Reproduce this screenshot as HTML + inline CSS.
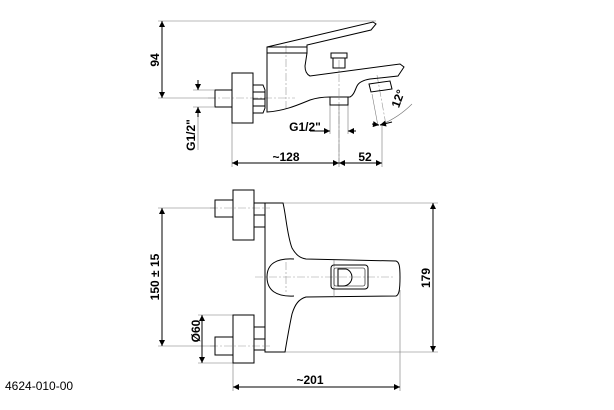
<!DOCTYPE html>
<html><head><meta charset="utf-8"><style>
html,body{margin:0;padding:0;background:#fff;}
svg{display:block;font-family:"Liberation Sans",Arial,sans-serif;}
</style></head><body>
<svg width="614" height="410" viewBox="0 0 614 410" xmlns="http://www.w3.org/2000/svg">
<defs>
<marker id="a" viewBox="0 0 10 10" refX="10" refY="5" markerWidth="9" markerHeight="6" orient="auto-start-reverse" markerUnits="userSpaceOnUse"><path d="M0,0L10,5L0,10z" fill="#000"/></marker>
</defs>
<g fill="none" stroke="#000" stroke-width="1">
<g stroke="#999" stroke-width="0.6" stroke-dasharray="8,2,2,2">
<line x1="208" y1="98" x2="295" y2="98"/>
<line x1="339" y1="60" x2="339" y2="165"/>
<line x1="286" y1="45" x2="286" y2="110"/>
<line x1="377" y1="75" x2="386" y2="125"/>
</g>
<g stroke="#777" stroke-width="0.6">
<line x1="158" y1="21" x2="376" y2="21"/>
<line x1="158" y1="98" x2="215" y2="98"/>
<line x1="193" y1="90" x2="214" y2="90"/>
<line x1="193" y1="107" x2="214" y2="107"/>
<line x1="232" y1="123" x2="232" y2="167"/>
<line x1="339" y1="105" x2="339" y2="167"/>
<line x1="382" y1="125" x2="382" y2="167"/>
<line x1="330" y1="105" x2="330" y2="134"/>
<line x1="348" y1="105" x2="348" y2="134"/>
<line x1="372" y1="94" x2="378" y2="126"/>
</g>
<path d="M267,47 L373,22 L376,24 L371,30 L307,45 L307,53 L267,53 Z"/>
<line x1="267" y1="47" x2="307" y2="47"/>
<path d="M267,53 L267,112 C285,111 300,104 310,100 C316,98 322,97 330,97 L350,97 C354,95 355,90 357,86 C359,82 364,80 370,79 L398,76 L404,67 L400,64 L310,76 C306,74 305,70 305,66 L307,53"/>
<rect x="331" y="53" width="16" height="5"/>
<rect x="333" y="58" width="12" height="10"/>
<rect x="330" y="97" width="18" height="8"/>
<path d="M369,84 L390,81 L392,89 L371,92 Z"/>
<rect x="232" y="73" width="21" height="50"/>
<rect x="215" y="90" width="17" height="17"/>
<path d="M253,85 L263,85 L265,90 L265,108 L263,113 L253,113 Z"/>
<line x1="253" y1="99" x2="265" y2="99"/>
<line x1="253" y1="92" x2="265" y2="92"/>
<line x1="253" y1="106" x2="265" y2="106"/>
<line x1="162" y1="21" x2="162" y2="98" marker-start="url(#a)" marker-end="url(#a)"/>
<line x1="198" y1="80" x2="198" y2="90" marker-end="url(#a)"/>
<line x1="198" y1="117" x2="198" y2="107" marker-end="url(#a)"/>
<line x1="198" y1="117" x2="198" y2="150" stroke="#777" stroke-width="0.6"/>
<line x1="310" y1="131" x2="330" y2="131" marker-end="url(#a)"/>
<line x1="356" y1="131" x2="348" y2="131" marker-end="url(#a)"/>
<line x1="232" y1="163" x2="339" y2="163" marker-start="url(#a)" marker-end="url(#a)"/>
<line x1="339" y1="163" x2="382" y2="163" marker-start="url(#a)" marker-end="url(#a)"/>
<line x1="372" y1="124" x2="379" y2="125" marker-end="url(#a)"/>
<path d="M380,125 Q398,118 412,104" stroke="#777" stroke-width="0.6"/>
<line x1="392" y1="122" x2="380" y2="125" marker-end="url(#a)"/>

<g stroke="#999" stroke-width="0.6" stroke-dasharray="8,2,2,2">
<line x1="210" y1="208" x2="270" y2="208"/>
<line x1="210" y1="346" x2="270" y2="346"/>
<line x1="255" y1="277" x2="395" y2="277"/>
<line x1="286" y1="262" x2="286" y2="292"/>
</g>
<g stroke="#777" stroke-width="0.6">
<line x1="158" y1="208" x2="215" y2="208"/>
<line x1="158" y1="346" x2="215" y2="346"/>
<line x1="283" y1="203" x2="438" y2="203"/>
<line x1="283" y1="352" x2="438" y2="352"/>
<line x1="198" y1="315" x2="233" y2="315"/>
<line x1="198" y1="363" x2="233" y2="363"/>
<line x1="233" y1="363" x2="233" y2="391"/>
<line x1="400" y1="290" x2="400" y2="391"/>
</g>
<rect x="233" y="190" width="21" height="50"/>
<rect x="215" y="200" width="18" height="17"/>
<rect x="254" y="203" width="11" height="24"/>
<line x1="254" y1="215" x2="265" y2="215"/>
<rect x="233" y="315" width="21" height="48"/>
<rect x="215" y="337" width="18" height="18"/>
<rect x="254" y="327" width="11" height="23"/>
<line x1="254" y1="339" x2="265" y2="339"/>
<path d="M265,203 L283,203 C286,215 287,235 292,248 C296,255 300,258 306,259 L396,261 C399,262 400,265 400,277 C400,290 399,295 396,296 L306,297 C299,299 295,304 292,314 C289,328 287,340 285,352 L265,352 Z"/>
<path d="M294,296 C276,297 267,290 267,277 C267,264 276,258 294,259"/>
<line x1="334" y1="260" x2="334" y2="297" stroke="#777" stroke-width="0.6"/>
<rect x="331" y="265" width="37" height="24" rx="3"/>
<rect x="334" y="268" width="31" height="18" rx="2" stroke-width="0.6"/>
<path d="M338,269 L346,269 C350,270 352,274 352,277 C352,282 348,286 343,286 L338,286 Z"/>
<line x1="162" y1="208" x2="162" y2="346" marker-start="url(#a)" marker-end="url(#a)"/>
<line x1="433" y1="203" x2="433" y2="352" marker-start="url(#a)" marker-end="url(#a)"/>
<line x1="202" y1="315" x2="202" y2="363" marker-start="url(#a)" marker-end="url(#a)"/>
<line x1="233" y1="387" x2="400" y2="387" marker-start="url(#a)" marker-end="url(#a)"/>
</g>
<g fill="#000" font-size="12" font-weight="bold">
<text transform="translate(159,60) rotate(-90)" text-anchor="middle">94</text>
<text transform="translate(195,135) rotate(-90)" text-anchor="middle">G1/2"</text>
<text x="305" y="131" text-anchor="middle">G1/2"</text>
<text x="286" y="161" text-anchor="middle">~128</text>
<text x="365" y="161" text-anchor="middle">52</text>
<text transform="translate(402,100) rotate(-70)" text-anchor="middle">12°</text>
<text transform="translate(159,277) rotate(-90)" text-anchor="middle">150 ± 15</text>
<text transform="translate(430,278) rotate(-90)" text-anchor="middle">179</text>
<text transform="translate(200,331) rotate(-90)" text-anchor="middle">Ø60</text>
<text x="310" y="384" text-anchor="middle">~201</text>
</g>
<text x="5" y="390" font-size="12" fill="#000">4624-010-00</text>
</svg>
</body></html>
